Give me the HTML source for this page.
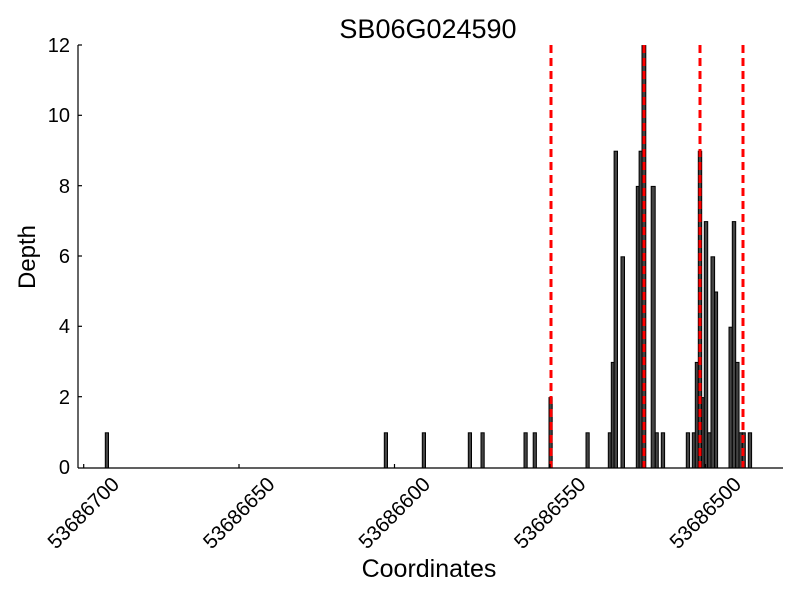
<!DOCTYPE html>
<html><head><meta charset="utf-8"><style>body{margin:0;background:#fff}svg{display:block}</style></head>
<body>
<svg width="800" height="600" xmlns="http://www.w3.org/2000/svg" font-family="Liberation Sans, DejaVu Sans, sans-serif">
<rect width="800" height="600" fill="#fff"/>
<g fill="#444" stroke="#000" stroke-width="1">
<rect x="105.3" y="432.8" width="3.2" height="35.2"/>
<rect x="384.3" y="432.8" width="3.2" height="35.2"/>
<rect x="422.3" y="432.8" width="3.2" height="35.2"/>
<rect x="468.3" y="432.8" width="3.2" height="35.2"/>
<rect x="481" y="432.8" width="3.2" height="35.2"/>
<rect x="524" y="432.8" width="3.2" height="35.2"/>
<rect x="533.2" y="432.8" width="3.2" height="35.2"/>
<rect x="549" y="397.6" width="3.2" height="70.4"/>
<rect x="586" y="432.8" width="3.2" height="35.2"/>
<rect x="608.3" y="432.8" width="3" height="35.2"/>
<rect x="611.3" y="362.4" width="2.8" height="105.6"/>
<rect x="614.1" y="151.2" width="3.4" height="316.8"/>
<rect x="621" y="256.8" width="3.5" height="211.2"/>
<rect x="636.3" y="186.4" width="2.8" height="281.6"/>
<rect x="639.1" y="151.2" width="2.9" height="316.8"/>
<rect x="642" y="45.6" width="3.8" height="422.4"/>
<rect x="651.2" y="186.4" width="4" height="281.6"/>
<rect x="655.3" y="432.8" width="3" height="35.2"/>
<rect x="661.3" y="432.8" width="3.3" height="35.2"/>
<rect x="686.3" y="432.8" width="3.3" height="35.2"/>
<rect x="692.3" y="432.8" width="3" height="35.2"/>
<rect x="695.3" y="362.4" width="3" height="105.6"/>
<rect x="698.3" y="151.2" width="3.4" height="316.8"/>
<rect x="701.7" y="397.6" width="2.6" height="70.4"/>
<rect x="704.3" y="221.6" width="3.4" height="246.4"/>
<rect x="707.7" y="432.8" width="3.3" height="35.2"/>
<rect x="711" y="256.8" width="3.6" height="211.2"/>
<rect x="714.6" y="292" width="3" height="176"/>
<rect x="729" y="327.2" width="3.3" height="140.8"/>
<rect x="732.3" y="221.6" width="3.4" height="246.4"/>
<rect x="735.7" y="362.4" width="3.3" height="105.6"/>
<rect x="739" y="432.8" width="3.3" height="35.2"/>
<rect x="742.3" y="432.8" width="3" height="35.2"/>
<rect x="748.3" y="432.8" width="3.3" height="35.2"/>
</g>
<g stroke="#f00" stroke-width="3" stroke-dasharray="8,5">
<line x1="551" y1="45" x2="551" y2="468"/>
<line x1="644" y1="45" x2="644" y2="468"/>
<line x1="700" y1="45" x2="700" y2="468"/>
<line x1="743" y1="45" x2="743" y2="468"/>
</g>
<g stroke="#000" stroke-width="1.2" fill="none">
<line x1="78" y1="45" x2="78" y2="468"/>
<line x1="78" y1="468" x2="783" y2="468"/>
<line x1="78" y1="45" x2="82" y2="45"/><line x1="78" y1="115.3" x2="82" y2="115.3"/>
<line x1="78" y1="185.7" x2="82" y2="185.7"/><line x1="78" y1="256" x2="82" y2="256"/>
<line x1="78" y1="326.3" x2="82" y2="326.3"/><line x1="78" y1="396.7" x2="82" y2="396.7"/>
<line x1="83.7" y1="468" x2="83.7" y2="464"/><line x1="239" y1="468" x2="239" y2="464"/>
<line x1="394.5" y1="468" x2="394.5" y2="464"/><line x1="550" y1="468" x2="550" y2="464"/>
<line x1="705.5" y1="468" x2="705.5" y2="464"/>
</g>
<g font-size="20" text-anchor="end" fill="#000">
<text x="70" y="52">12</text><text x="70" y="122">10</text><text x="70" y="193">8</text>
<text x="70" y="263">6</text><text x="70" y="333">4</text><text x="70" y="404">2</text><text x="70" y="474">0</text>
</g>
<g font-size="20.5" text-anchor="end" fill="#000">
<text transform="translate(120.5,485.5) rotate(-45)">53686700</text>
<text transform="translate(276,485.5) rotate(-45)">53686650</text>
<text transform="translate(431.5,485.5) rotate(-45)">53686600</text>
<text transform="translate(587,485.5) rotate(-45)">53686550</text>
<text transform="translate(742.5,485.5) rotate(-45)">53686500</text>
</g>
<text x="428" y="38" font-size="27" text-anchor="middle">SB06G024590</text>
<text x="429" y="577" font-size="25" text-anchor="middle">Coordinates</text>
<text transform="translate(35,257) rotate(-90)" font-size="24" text-anchor="middle">Depth</text>
</svg>
</body></html>
